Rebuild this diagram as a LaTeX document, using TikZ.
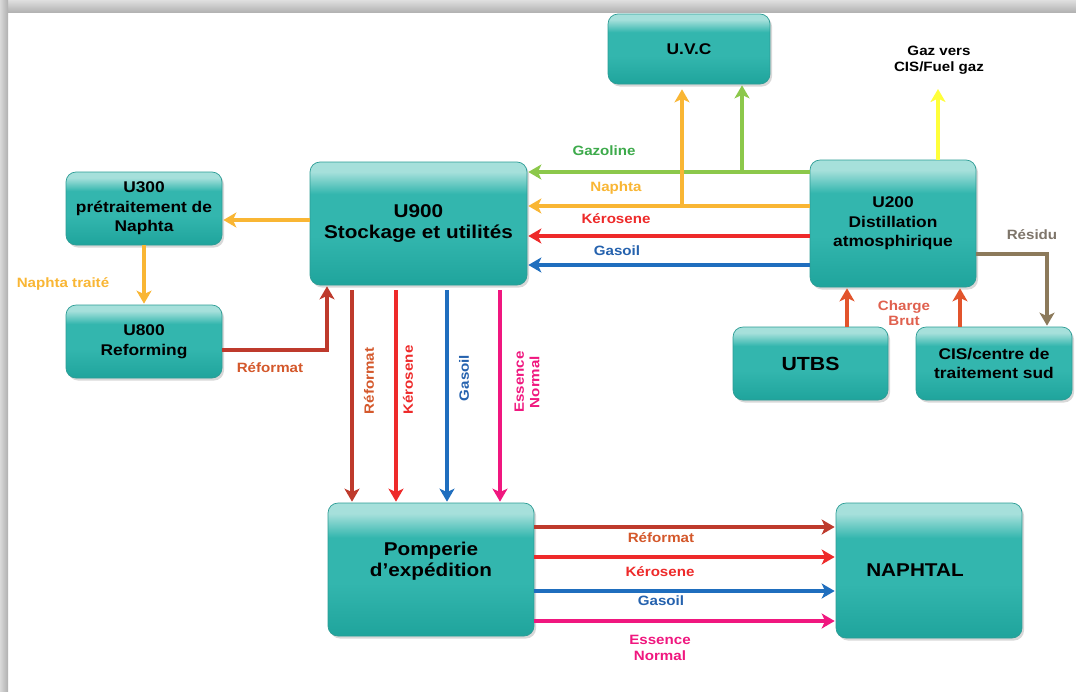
\documentclass[tikz,border=0pt]{standalone}
\usepackage{fontspec}
\setmainfont{Liberation Sans}[FakeStretch=1.12]
\usetikzlibrary{arrows.meta,shadows,calc}
\definecolor{tealD}{HTML}{1FA49C}
\definecolor{tealM}{HTML}{33B6AE}
\definecolor{tealL}{HTML}{A6E0DB}
\definecolor{boxline}{HTML}{2C9C95}
\definecolor{cGreen}{HTML}{8CC84B}
\definecolor{tGreen}{HTML}{3DAA4B}
\definecolor{cOrange}{HTML}{F9B634}
\definecolor{cRed}{HTML}{EE2A2A}
\definecolor{cBlue}{HTML}{1F6EBE}
\definecolor{tBlue}{HTML}{2562AE}
\definecolor{cYellow}{HTML}{FFFF3A}
\definecolor{cBrown}{HTML}{8C7A5B}
\definecolor{tGray}{HTML}{7E756A}
\definecolor{cCharge}{HTML}{E2542C}
\definecolor{tCharge}{HTML}{E0604E}
\definecolor{cRef}{HTML}{BE3A2C}
\definecolor{tRef}{HTML}{D4582B}
\definecolor{cMag}{HTML}{F0177F}
\pgfdeclareverticalshading{tealbox}{100bp}{color(0bp)=(tealD); color(25bp)=(tealD); color(45bp)=(tealM); color(62bp)=(tealM); color(71bp)=(tealL); color(100bp)=(tealL)}
\begin{document}
\begin{tikzpicture}[x=1pt,y=-1pt,
  box/.style={draw=boxline, line width=0.7pt, rounded corners=10pt, shading=tealbox,
    drop shadow={opacity=0.3,shadow xshift=2pt,shadow yshift=-2.5pt},
    align=center, font=\fontsize{15.5}{19.5}\selectfont\bfseries, text=black, inner sep=2pt},
  bigtext/.style={font=\fontsize{18.5}{21}\selectfont\bfseries},
  flow/.style={line width=3.6pt, -{Stealth[length=13pt,width=15pt,inset=3.5pt]}, shorten >=1pt},
  lbl/.style={font=\fontsize{13.5}{15.5}\selectfont\bfseries, align=center, inner sep=1pt}]
\useasboundingbox (0,0) rectangle (1076,691);
\fill[white] (0,0) rectangle (1076,691);
\shade[top color=gray!25, bottom color=gray!60] (0,0) rectangle (1076,12);
\shade[left color=gray!30, right color=gray!62] (0,0) rectangle (8,691);

% boxes
\node[box, minimum width=162pt, minimum height=70pt] (uvc) at (689,49) {U.V.C};
\node[box, bigtext, minimum width=217pt, minimum height=123pt] (u900) at (418.5,223.5) {U900\\Stockage et utilités};
\node[box, minimum width=156pt, minimum height=73pt] (u300) at (144,208.5) {U300\\prétraitement de\\Naphta};
\node[box, minimum width=156pt, minimum height=73pt] (u800) at (144,341.5) {U800\\Reforming};
\node[box, minimum width=166pt, minimum height=127pt] (u200) at (893,223.5) {U200\\Distillation\\atmosphirique};
\node[box, minimum width=155pt, minimum height=73pt, font=\fontsize{19}{21}\selectfont\bfseries] (utbs) at (810.5,363.5) {UTBS};
\node[box, minimum width=156pt, minimum height=73pt] (cis) at (994,363.5) {CIS/centre de\\traitement sud};
\node[box, minimum width=206pt, minimum height=133pt,
  label={[font=\fontsize{18.5}{21}\selectfont\bfseries, align=center, yshift=8pt]center:Pomperie\\d'expédition}] (pomp) at (431,569.5) {};
\node[box, minimum width=186pt, minimum height=135pt,
  label={[font=\fontsize{18.5}{21}\selectfont\bfseries, xshift=-14pt]center:NAPHTAL}] (naph) at (929,570.5) {};

% U200 -> U900
\coordinate (jg) at (742,172);
\coordinate (jn) at (682,206);
\draw[flow, cGreen] (u200.west |- jg) -- (u900.east |- jg);
\draw[flow, cGreen] (jg) -- (uvc.south -| jg);
\draw[flow, cOrange] (u200.west |- jn) -- (u900.east |- jn);
\draw[flow, cOrange] (jn) -- ($(uvc.south -| jn)+(0,4)$);
\draw[flow, cRed] (u200.west |- 0,236) -- (u900.east |- 0,236);
\draw[flow, cBlue] (u200.west |- 0,265) -- (u900.east |- 0,265);
\node[lbl, text=tGreen] (lgaz) at (604,151) {Gazoline};
\node[lbl, text=cOrange] (lnap) at (616,188) {Naphta};
\node[lbl, text=cRed] (lker) at (616,219) {Kérosene};
\node[lbl, text=tBlue] (lgas) at (617,251) {Gasoil};

% gaz
\coordinate (gz) at (938,88);
\draw[flow, cYellow] (u200.north -| gz) -- (gz);
\node[lbl, text=black] (lgz) at (939,60) {Gaz vers\\CIS/Fuel gaz};

% residu
\coordinate (rs) at (1047,254);
\draw[flow, cBrown] (u200.east |- rs) -- (rs) -- (cis.north -| rs);
\node[lbl, text=tGray] (lres) at (1032,235) {Résidu};

% charge brut
\draw[flow, cCharge] (utbs.north -| 847,0) -- (u200.south -| 847,0);
\draw[flow, cCharge] (cis.north -| 960,0) -- (u200.south -| 960,0);
\node[lbl, text=tCharge] (lch) at (904,313) {Charge\\Brut};

% left part
\draw[flow, cOrange] (u900.west |- 0,220) -- (u300.east |- 0,220);
\draw[flow, cOrange] (u300.south) -- (u800.north);
\node[lbl, text=cOrange] (lnt) at (63,284) {Naphta traité};
\coordinate (rf) at (327,350);
\draw[flow, cRef] (u800.east |- rf) -- (rf) -- (u900.south -| rf);
\node[lbl, text=tRef] (lrf) at (270,368) {Réformat};

% U900 -> Pomperie
\draw[flow, cRef] ($(u900.south -| 352,0)+(0,5)$) -- (pomp.north -| 352,0);
\draw[flow, cRed] ($(u900.south -| 396,0)+(0,5)$) -- (pomp.north -| 396,0);
\draw[flow, cBlue] ($(u900.south -| 447,0)+(0,5)$) -- (pomp.north -| 447,0);
\draw[flow, cMag] ($(u900.south -| 500,0)+(0,5)$) -- (pomp.north -| 500,0);
\node[lbl, text=tRef, rotate=90] (vrf) at (369,381) {Réformat};
\node[lbl, text=cRed, rotate=90] (vker) at (408,380) {Kérosene};
\node[lbl, text=tBlue, rotate=90] (vgas) at (464,378) {Gasoil};
\node[lbl, text=cMag, rotate=90] (vess) at (527,382) {Essence\\Normal};

% Pomperie -> NAPHTAL
\draw[flow, cRef] (pomp.east |- 0,527) -- (naph.west |- 0,527);
\draw[flow, cRed] (pomp.east |- 0,557) -- (naph.west |- 0,557);
\draw[flow, cBlue] (pomp.east |- 0,591) -- (naph.west |- 0,591);
\draw[flow, cMag] (pomp.east |- 0,621) -- (naph.west |- 0,621);
\node[lbl, text=tRef] (hrf) at (661,538) {Réformat};
\node[lbl, text=cRed] (hker) at (660,572) {Kérosene};
\node[lbl, text=tBlue] (hgas) at (661,601) {Gasoil};
\node[lbl, text=cMag] (hess) at (660,648) {Essence\\Normal};
\end{tikzpicture}
\end{document}
